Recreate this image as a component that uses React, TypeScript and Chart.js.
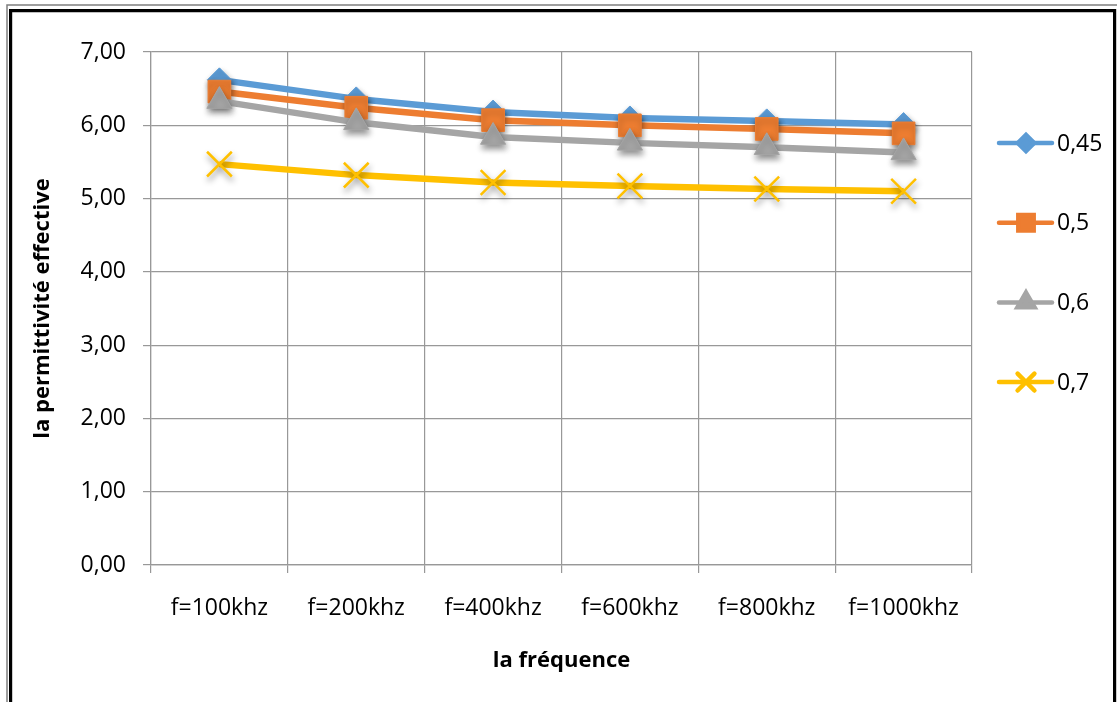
import React, { useEffect, useRef } from "react";
import { Chart, registerables, PointElement } from "chart.js";
import { drawPoint } from "chart.js/helpers";

Chart.register(...registerables);

// Frequencies on the horizontal axis
const categories = ["f=100khz", "f=200khz", "f=400khz", "f=600khz", "f=800khz", "f=1000khz"];

// Effective permittivity for each ratio
const series045 = [6.62, 6.36, 6.18, 6.1, 6.06, 6.01];
const series05 = [6.46, 6.24, 6.07, 6.0, 5.95, 5.89];
const series06 = [6.33, 6.04, 5.84, 5.76, 5.7, 5.63];
const series07 = [5.47, 5.32, 5.22, 5.17, 5.13, 5.1];

const seriesNames = ["0,45", "0,5", "0,6", "0,7"];
const yTicks = [0, 1, 2, 3, 4, 5, 6, 7];

const FONT = "'Open Sans', 'Liberation Sans', sans-serif";
const GRID = "#989898";

const fmt = (v: number) => v.toFixed(2).replace(".", ",");

// Marker drawing with a soft drop shadow, like office-style chart markers
const shadowPoints = {
  id: "shadowPoints",
  beforeDatasetDraw(chart: any, args: any) {
    const meta = chart.getDatasetMeta(args.index);
    meta.data.forEach((el: any) => {
      if (el._shadowWrapped) return;
      el._shadowWrapped = true;
      el.draw = function (ctx: CanvasRenderingContext2D, area: any) {
        ctx.save();
        ctx.shadowColor = "rgba(0,0,0,0.45)";
        ctx.shadowBlur = 6;
        ctx.shadowOffsetX = 1;
        ctx.shadowOffsetY = 4;
        PointElement.prototype.draw.call(this, ctx, area);
        ctx.restore();
      };
    });
  },
};

// Legend on the right: a short line with the series marker, then its name
const sideLegend = {
  id: "sideLegend",
  afterDraw(chart: any) {
    const ctx: CanvasRenderingContext2D = chart.ctx;
    const startY = 143;
    const step = 79.7;
    chart.data.datasets.forEach((ds: any, i: number) => {
      const y = startY + i * step;
      ctx.save();
      ctx.strokeStyle = ds.borderColor;
      ctx.lineWidth = 4.5;
      ctx.lineCap = "round";
      ctx.beginPath();
      ctx.moveTo(999, y);
      ctx.lineTo(1052, y);
      ctx.stroke();
      ctx.fillStyle = ds.pointBackgroundColor;
      ctx.strokeStyle = ds.pointBorderColor;
      drawPoint(
        ctx,
        {
          pointStyle: ds.pointStyle,
          radius: ds.pointRadius * 0.68,
          rotation: 0,
          borderWidth: ds.pointBorderWidth,
        } as any,
        1026,
        y
      );
      ctx.fillStyle = "#000";
      ctx.font = `23px ${FONT}`;
      ctx.textBaseline = "middle";
      ctx.textAlign = "left";
      ctx.fillText(ds.label, 1057, y + 1);
      ctx.restore();
    });
  },
};

// Double frame around the whole chart
const frame = {
  id: "frame",
  afterDraw(chart: any) {
    const ctx: CanvasRenderingContext2D = chart.ctx;
    const w = chart.width;
    const h = chart.height;
    ctx.save();
    ctx.strokeStyle = "#7f7f7f";
    ctx.lineWidth = 1.5;
    ctx.beginPath();
    ctx.moveTo(7, h + 5);
    ctx.lineTo(7, 5);
    ctx.lineTo(w + 5, 5);
    ctx.stroke();
    ctx.strokeStyle = "#000";
    ctx.lineWidth = 3.2;
    ctx.beginPath();
    ctx.moveTo(10.6, h + 5);
    ctx.lineTo(10.6, 10.6);
    ctx.lineTo(1114.6, 10.6);
    ctx.lineTo(1114.6, h + 5);
    ctx.stroke();
    ctx.restore();
  },
};

export default function App() {
  const canvasRef = useRef<HTMLCanvasElement | null>(null);

  useEffect(() => {
    document.body.style.margin = "0";
    const canvas = canvasRef.current;
    if (!canvas) return;

    const make = (
      label: string,
      data: number[],
      color: string,
      pointStyle: string,
      radius: number,
      order: number,
      extra: any = {}
    ) => ({
      label,
      data,
      borderColor: color,
      backgroundColor: color,
      pointBackgroundColor: color,
      pointBorderColor: color,
      pointStyle,
      pointRadius: radius,
      pointHoverRadius: radius,
      pointBorderWidth: 1,
      borderWidth: 6.5,
      borderJoinStyle: "round",
      tension: 0,
      order,
      ...extra,
    });

    const chart = new Chart(canvas, {
      type: "line",
      data: {
        labels: categories,
        datasets: [
          make(seriesNames[0], series045, "#5b9bd5", "rectRot", 12, 4),
          make(seriesNames[1], series05, "#ed7d31", "rect", 16, 3),
          make(seriesNames[2], series06, "#a5a5a5", "triangle", 14.5, 2),
          make(seriesNames[3], series07, "#ffc000", "crossRot", 17.5, 1, {
            pointBorderWidth: 2.5,
          }),
        ] as any,
      },
      options: {
        animation: false,
        responsive: false,
        events: [],
        layout: { padding: { top: 52, right: 145, bottom: 0, left: 0 } },
        plugins: {
          legend: { display: false },
          tooltip: { enabled: false },
          title: { display: false },
        },
        scales: {
          x: {
            type: "category",
            offset: true,
            grid: {
              offset: true,
              color: GRID,
              lineWidth: 1.2,
              tickLength: 8,
              drawTicks: true,
            },
            border: { color: GRID, width: 1.2 },
            ticks: {
              color: "#000",
              font: { family: FONT, size: 23 },
              padding: 22,
              maxRotation: 0,
              autoSkip: false,
            },
            title: {
              display: true,
              text: "la fréquence",
              color: "#000",
              font: { family: FONT, size: 22, weight: "bold" },
              padding: { top: 0, bottom: 28 },
            },
            afterFit(scale: any) {
              scale.height = 137;
            },
          },
          y: {
            min: 0,
            max: 7,
            afterBuildTicks(scale: any) {
              scale.ticks = yTicks.map((v) => ({ value: v }));
            },
            grid: {
              color: GRID,
              lineWidth: 1.2,
              tickLength: 8,
            },
            border: { color: GRID, width: 1.2 },
            ticks: {
              color: "#000",
              font: { family: FONT, size: 23 },
              padding: 17,
              callback: (v: any) => fmt(Number(v)),
            },
            title: {
              display: true,
              text: "la permittivité effective",
              color: "#000",
              font: { family: FONT, size: 22, weight: "bold" },
              padding: { top: 30, bottom: 0 },
            },
            afterFit(scale: any) {
              scale.width = 151;
            },
          },
        },
      } as any,
      plugins: [shadowPoints, sideLegend, frame],
    });

    return () => chart.destroy();
  }, []);

  return (
    <div style={{ width: 1117, height: 702, background: "#fff", position: "relative" }}>
      <canvas ref={canvasRef} width={1117} height={702} style={{ display: "block" }} />
    </div>
  );
}
